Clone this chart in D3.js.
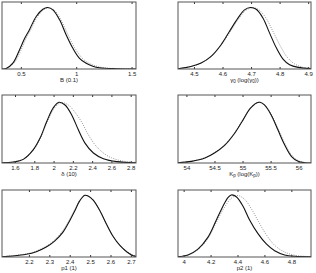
<!DOCTYPE html>
<html>
<head>
<meta charset="utf-8">
<script src="https://cdn.jsdelivr.net/npm/d3@7"></script>
<style>
body { margin: 0; background: #fff; }
text { font-family: "Liberation Sans", Arial, sans-serif; fill: #222; }
</style>
</head>
<body>
<svg id="chart" width="316" height="273"></svg>
<script>
// B (0.1)
var bDomain = [0.33, 1.54];
var bTicks = [0.5, 1, 1.5];
var bSolid = [[0.33,0],[0.367,0.01],[0.43,0.1],[0.488,0.31],[0.535,0.5],[0.578,0.64],[0.639,0.855],[0.699,0.973],[0.742,1.0],[0.789,0.962],[0.85,0.8],[0.91,0.554],[0.97,0.337],[1.03,0.174],[1.09,0.092],[1.15,0.045],[1.21,0.02],[1.36,0.005],[1.54,0]];
var bDotted = [[0.33,0],[0.37,0.008],[0.44,0.1],[0.5,0.3],[0.548,0.5],[0.59,0.64],[0.65,0.85],[0.71,0.97],[0.752,0.995],[0.8,0.962],[0.862,0.8],[0.925,0.56],[0.985,0.35],[1.05,0.185],[1.11,0.1],[1.18,0.048],[1.25,0.02],[1.4,0.005],[1.54,0]];

// gamma0 (log(gamma0))
var gDomain = [4.444, 4.91];
var gTicks = [4.5, 4.6, 4.7, 4.8, 4.9];
var gSolid = [[4.444,0.005],[4.489,0.04],[4.525,0.097],[4.56,0.205],[4.595,0.395],[4.624,0.61],[4.654,0.827],[4.677,0.962],[4.698,1.0],[4.718,0.973],[4.742,0.827],[4.765,0.584],[4.789,0.34],[4.812,0.162],[4.835,0.07],[4.865,0.027],[4.91,0.005]];
var gDotted = [[4.444,0.005],[4.489,0.04],[4.525,0.097],[4.56,0.205],[4.595,0.39],[4.626,0.6],[4.657,0.82],[4.682,0.955],[4.704,0.995],[4.726,0.968],[4.752,0.83],[4.778,0.6],[4.803,0.37],[4.827,0.19],[4.852,0.085],[4.88,0.03],[4.91,0.008]];

// delta (10)
var dDomain = [1.465, 2.855];
var dTicks = [1.6, 1.8, 2, 2.2, 2.4, 2.6, 2.8];
var dSolid = [[1.465,0.005],[1.583,0.016],[1.686,0.06],[1.79,0.22],[1.86,0.41],[1.929,0.683],[1.998,0.913],[2.057,1.0],[2.119,0.956],[2.188,0.792],[2.257,0.546],[2.326,0.328],[2.413,0.164],[2.517,0.071],[2.655,0.022],[2.855,0.005]];
var dDotted = [[1.465,0.005],[1.583,0.016],[1.686,0.066],[1.79,0.21],[1.86,0.4],[1.929,0.656],[1.998,0.88],[2.05,0.973],[2.091,0.995],[2.153,0.956],[2.222,0.836],[2.292,0.672],[2.361,0.464],[2.447,0.268],[2.551,0.126],[2.655,0.055],[2.758,0.022],[2.855,0.011]];

// Kp (log(Kp))
var kDomain = [53.85, 56.22];
var kTicks = [54, 54.5, 55, 55.5, 56];
var kSolid = [[53.85,0.005],[54.09,0.027],[54.33,0.082],[54.5,0.164],[54.68,0.29],[54.86,0.49],[55.01,0.71],[55.13,0.89],[55.25,0.99],[55.31,1.0],[55.39,0.956],[55.51,0.792],[55.63,0.546],[55.75,0.3],[55.87,0.11],[55.99,0.027],[56.11,0.005],[56.22,0]];
var kDotted = [[53.85,0.006],[54.09,0.03],[54.33,0.088],[54.5,0.172],[54.68,0.3],[54.86,0.5],[55.01,0.72],[55.13,0.895],[55.25,0.99],[55.32,0.998],[55.4,0.95],[55.52,0.79],[55.64,0.55],[55.76,0.31],[55.88,0.125],[56.0,0.035],[56.12,0.008],[56.22,0]];

// p1 (1)
var p1Domain = [2.068, 2.725];
var p1Ticks = [2.2, 2.3, 2.4, 2.5, 2.6, 2.7];
var p1Solid = [[2.068,0.005],[2.121,0.016],[2.187,0.043],[2.236,0.085],[2.285,0.16],[2.326,0.255],[2.367,0.4],[2.4,0.585],[2.425,0.745],[2.449,0.904],[2.474,0.995],[2.49,0.984],[2.515,0.915],[2.548,0.745],[2.58,0.532],[2.613,0.33],[2.646,0.186],[2.679,0.085],[2.711,0.021],[2.725,0.01]];
var p1Dotted = [[2.068,0.006],[2.121,0.02],[2.187,0.05],[2.236,0.095],[2.285,0.175],[2.326,0.275],[2.367,0.43],[2.4,0.61],[2.425,0.765],[2.449,0.915],[2.472,0.99],[2.49,0.985],[2.515,0.92],[2.548,0.75],[2.58,0.535],[2.613,0.335],[2.646,0.19],[2.679,0.09],[2.711,0.03],[2.725,0.015]];

// p2 (1)
var p2Domain = [3.958, 4.946];
var p2Ticks = [4, 4.2, 4.4, 4.6, 4.8];
var p2Solid = [[3.958,0.005],[4.032,0.033],[4.106,0.127],[4.181,0.32],[4.243,0.597],[4.292,0.818],[4.329,0.956],[4.354,1.0],[4.391,0.972],[4.441,0.818],[4.49,0.597],[4.552,0.376],[4.614,0.21],[4.676,0.1],[4.75,0.033],[4.825,0.011],[4.946,0.005]];
var p2Dotted = [[3.958,0.005],[4.032,0.03],[4.106,0.115],[4.181,0.3],[4.243,0.56],[4.3,0.79],[4.35,0.94],[4.385,0.985],[4.408,0.99],[4.455,0.925],[4.505,0.77],[4.555,0.575],[4.615,0.355],[4.678,0.185],[4.745,0.085],[4.82,0.03],[4.899,0.011],[4.946,0.005]];

var panels = [
	{ domain: bDomain, ticks: bTicks, solid: bSolid, dotted: bDotted, x: 2, y: 2, w: 134, h: 67, ymax: 1.09, label: [["B (0.1)"]] },
	{ domain: gDomain, ticks: gTicks, solid: gSolid, dotted: gDotted, x: 178, y: 2, w: 133, h: 67, ymax: 1.09, label: [["γ"],["0","sub"],[" (log(γ"],["0","sub"],["))"]] },
	{ domain: dDomain, ticks: dTicks, solid: dSolid, dotted: dDotted, x: 2, y: 95, w: 134, h: 68, ymax: 1.12, label: [["δ (10)"]] },
	{ domain: kDomain, ticks: kTicks, solid: kSolid, dotted: kDotted, x: 178, y: 95, w: 133, h: 68, ymax: 1.12, label: [["K"],["p","sub"],[" (log(K"],["p","sub"],["))"]] },
	{ domain: p1Domain, ticks: p1Ticks, solid: p1Solid, dotted: p1Dotted, x: 2, y: 190, w: 134, h: 67, ymax: 1.08, label: [["p1 (1)"]] },
	{ domain: p2Domain, ticks: p2Ticks, solid: p2Solid, dotted: p2Dotted, x: 178, y: 190, w: 133, h: 67, ymax: 1.08, label: [["p2 (1)"]] }
];

var svg = d3.select("#chart");

panels.forEach(function(p, i){
	let g = svg.append("g").attr("transform", "translate(" + p.x + "," + p.y + ")");

	let xScale = d3.scaleLinear().domain(p.domain).range([0, p.w]);
	let yScale = d3.scaleLinear().domain([0, p.ymax]).range([p.h, 0]);

	g.append("clipPath").attr("id", "clip" + i)
		.append("rect").attr("width", p.w).attr("height", p.h);

	let line = d3.line()
		.x(function(d){ return xScale(d[0]); })
		.y(function(d){ return yScale(d[1]); })
		.curve(d3.curveCatmullRom.alpha(0.5));

	//dotted prior first, solid posterior on top
	g.append("path")
		.attr("d", line(p.dotted))
		.attr("clip-path", "url(#clip" + i + ")")
		.style("fill", "none")
		.style("stroke", "#8a8a8a")
		.style("stroke-width", 0.9)
		.style("stroke-dasharray", "1,1.3");

	g.append("path")
		.attr("d", line(p.solid))
		.attr("clip-path", "url(#clip" + i + ")")
		.style("fill", "none")
		.style("stroke", "#111")
		.style("stroke-width", 1.1);

	//bottom axis with inward ticks
	let bottom = d3.axisBottom(xScale).tickValues(p.ticks).tickSize(-2).tickPadding(3)
		.tickFormat(function(d){ return String(d); });
	let ax = g.append("g").attr("transform", "translate(0," + p.h + ")").call(bottom);
	ax.select(".domain").remove();
	ax.selectAll("line").style("stroke", "#333");
	ax.selectAll("text").style("font-size", "6px").style("fill", "#222")
		.style("font-family", "'Liberation Sans', Arial, sans-serif");

	let top = d3.axisTop(xScale).tickValues(p.ticks).tickSize(-2).tickFormat("");
	let axt = g.append("g").call(top);
	axt.select(".domain").remove();
	axt.selectAll("line").style("stroke", "#333");

	//box
	g.append("rect")
		.attr("x", 0).attr("y", 0)
		.attr("width", p.w).attr("height", p.h)
		.style("fill", "none")
		.style("stroke", "#555")
		.style("stroke-width", 1);

	//xlabel
	let lab = g.append("text")
		.attr("x", p.w / 2)
		.attr("y", p.h + 12.5)
		.style("text-anchor", "middle")
		.style("font-size", "6px");
	p.label.forEach(function(part){
		let t = lab.append("tspan").text(part[0]);
		if(part[1] == "sub"){
			t.attr("dy", "1.5").style("font-size", "4.5px");
		}else{
			t.attr("dy", lab.selectAll("tspan").size() > 1 ? "-1.5" : "0");
		}
	});
});
</script>
</body>
</html>
